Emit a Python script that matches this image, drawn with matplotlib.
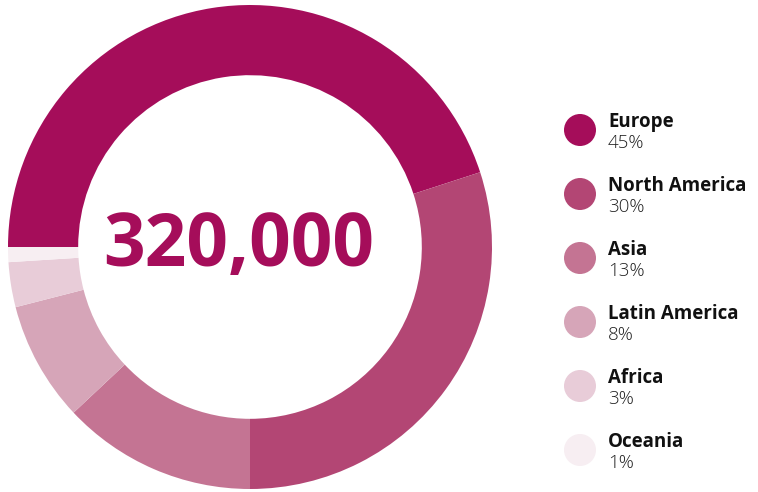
import matplotlib.pyplot as plt

regions = ['Europe', 'North America', 'Asia', 'Latin America', 'Africa', 'Oceania']
shares = [45, 30, 13, 8, 3, 1]
colors = ['#A50D5A', '#B34674', '#C47493', '#D6A5B8', '#E8CCD8', '#F7EEF2']
total_label = '320,000'

W, H = 758, 492
fig = plt.figure(figsize=(W / 100, H / 100), dpi=100)

# donut
ax = fig.add_axes([8 / W, 3 / H, 484 / W, 484 / H])
ax.pie(shares, colors=colors, startangle=180, counterclock=False,
       radius=1.0, wedgeprops=dict(width=0.29, linewidth=0))
ax.set_xlim(-1, 1)
ax.set_ylim(-1, 1)
ax.set_aspect('equal')
ax.axis('off')
ax.text(-0.045, -0.08, total_label, ha='center', va='baseline', fontsize=52.5,
        fontweight='bold', color='#A50D5A', family='Open Sans')

# legend
lg = fig.add_axes([0, 0, 1, 1])
lg.set_xlim(0, W)
lg.set_ylim(H, 0)
lg.axis('off')
for i, (name, val, col) in enumerate(zip(regions, shares, colors)):
    y = 130 + i * 64
    lg.add_patch(plt.Circle((580, y), 16, color=col, lw=0))
    lg.text(608, y - 3, name, fontsize=13.5, fontweight='bold', color='#111111',
            family='Open Sans', va='baseline')
    lg.text(608, y + 18, f'{val}%', fontsize=13.5, fontweight='light', color='#222222',
            family='Open Sans', va='baseline')

fig.savefig('out.png', dpi=100)
